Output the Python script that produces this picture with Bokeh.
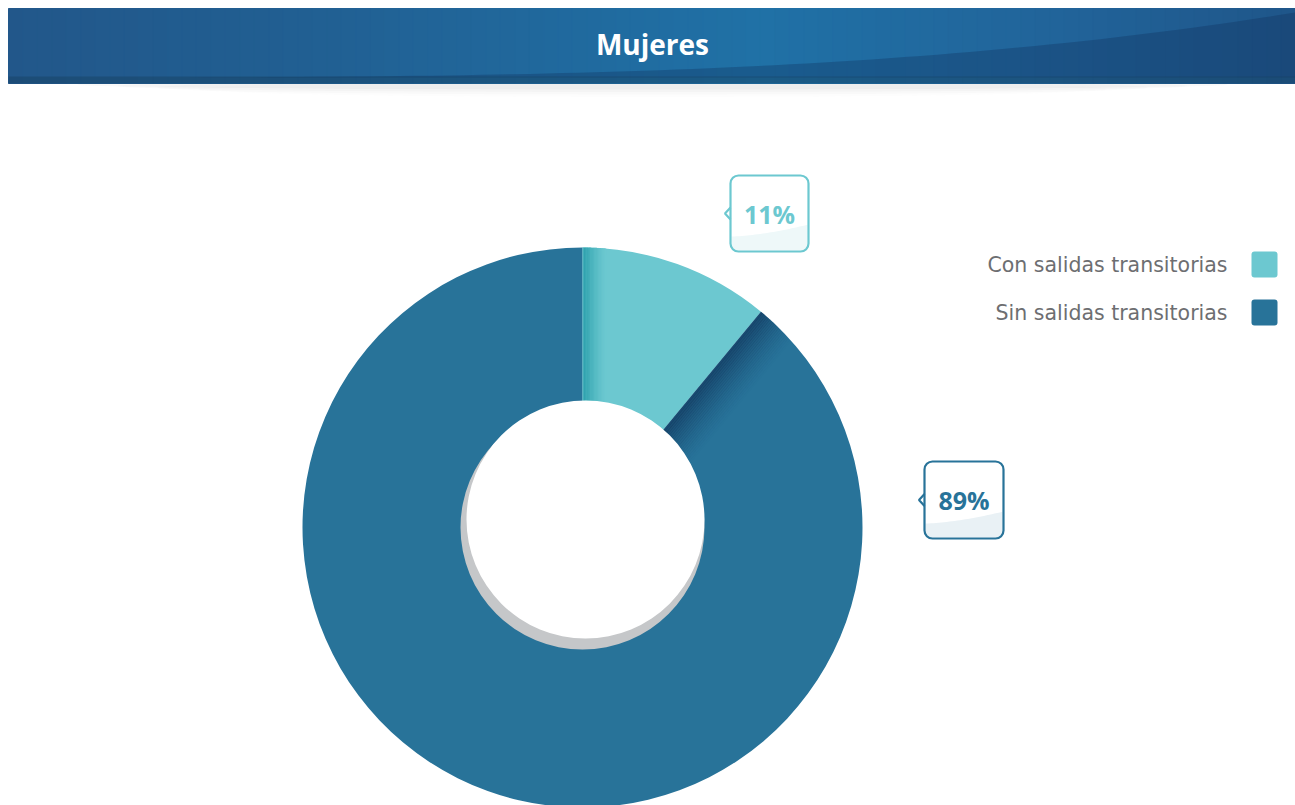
import numpy as np
from bokeh.plotting import figure
from bokeh.models import Range1d, BoxAnnotation
from bokeh.core.properties import value
from bokeh.embed import file_html
from bokeh.resources import INLINE

# ---------------- data ----------------
title = "Mujeres"
categories = ["Con salidas transitorias", "Sin salidas transitorias"]
values = [11, 89]
labels = ["11%", "89%"]
colors = ["#6cc8d0", "#287399"]

# ---------------- layout (screen px) ----------------
W, H = 1295, 805
FONT = "Open Sans"


def Y(ys):
    return H - np.asarray(ys, dtype=float)


def hex2rgb(h):
    h = h.lstrip("#")
    return np.array([int(h[i:i + 2], 16) for i in (0, 2, 4)], dtype=float)


def rgb2hex(c):
    c = np.clip(np.round(c), 0, 255).astype(int)
    return "#%02x%02x%02x" % tuple(c)


p = figure(width=W, height=H, x_range=Range1d(0, W), y_range=Range1d(0, H),
           output_backend="svg", toolbar_location=None, min_border=0,
           background_fill_color="white", border_fill_color="white")
p.axis.visible = False
p.grid.visible = False
p.outline_line_color = None

# ---------------- banner ----------------
for i, a in enumerate([0.05, 0.04, 0.03, 0.02]):
    p.ellipse(x=[652], y=Y([84 + i * 1.5]), width=1150 - i * 80, height=10 + i * 2,
              fill_color="#888888", fill_alpha=a, line_color=None)

# solid base then gradient strips on top (overlapping to hide seams)
p.quad(left=[8], right=[1295], top=Y([8]), bottom=Y([83]), fill_color="#215f92", line_color=None)
stops_x = [8, 300, 760, 1050, 1295]
stops_c = ["#22578a", "#215f92", "#2071a6", "#21649a", "#1f568a"]
sc = np.array([hex2rgb(c) for c in stops_c])
edges = np.linspace(8, 1295, 90)
lefts, rights, cols = [], [], []
for a, b in zip(edges[:-1], edges[1:]):
    m = 0.5 * (a + b)
    c = np.array([np.interp(m, stops_x, sc[:, k]) for k in range(3)])
    lefts.append(a)
    rights.append(min(b + 2.0, 1295))
    cols.append(rgb2hex(c))
p.quad(left=lefts, right=rights, top=Y(np.full(len(lefts), 8)), bottom=Y(np.full(len(lefts), 83)),
       fill_color=cols, line_color=cols, line_width=1)

cx = np.linspace(8, 1295, 80)
t = (cx - 8) / (1295 - 8)
cy = 77 - 65 * t ** 3.2
px = np.concatenate([cx, [1295, 8]])
py = np.concatenate([cy, [77, 77]])
p.patch(px, Y(py), fill_color="#102f5a", fill_alpha=0.32, line_color=None)
p.quad(left=[8], right=[1295], top=Y([76]), bottom=Y([83]), fill_color="#16405f", fill_alpha=0.45,
       line_color=None)

p.text(x=[652], y=Y([43]), text=[title], text_color="white", text_font=value(FONT),
       text_font_style="bold", text_font_size="28px", text_align="center", text_baseline="middle")

# ---------------- donut ----------------
CX, CY = 582, 527
R_OUT, R_IN = 280, 121
cx_d, cy_d = CX, float(Y(CY))

fr = np.array(values, dtype=float) / np.sum(values)
cum = np.concatenate([[0], np.cumsum(fr)])
start = np.pi / 2 - cum[:-1] * 2 * np.pi
end = np.pi / 2 - cum[1:] * 2 * np.pi
p.annular_wedge(x=[cx_d] * len(values), y=[cy_d] * len(values), inner_radius=R_IN, outer_radius=R_OUT,
                start_angle=list(start), end_angle=list(end), direction="clock",
                fill_color=colors, line_color=None)

# linear shading at the start of the first slice
c_dark = hex2rgb("#2a9fab")
c_lite = hex2rgb(colors[0])
for i in range(18):
    a, b = i * 1.3, (i + 1) * 1.3 + 0.3
    f = (i + 0.5) / 18
    w = (1 - f) ** 1.3 if i > 0 else 0.55
    col = c_dark * w + c_lite * (1 - w)
    xs = np.linspace(a, b, 4)
    top = np.sqrt(R_OUT ** 2 - xs ** 2)
    bot = np.sqrt(R_IN ** 2 - xs ** 2)
    polx = np.concatenate([xs, xs[::-1]]) + cx_d
    poly = np.concatenate([top, bot[::-1]]) + cy_d
    p.patch(polx, poly, fill_color=rgb2hex(col), line_color=None)

# shading in the second slice along the boundary
theta = cum[1] * 2 * np.pi
u = np.array([np.sin(theta), np.cos(theta)])
n = np.array([np.cos(theta), -np.sin(theta)])
nsh = 22
for i in range(nsh):
    d1, d2 = i * 2.0, (i + 1) * 2.0 + 0.4
    f = (i + 0.5) / nsh
    alpha = 0.62 * (1 - f) ** 1.6
    tin1, tout1 = np.sqrt(R_IN ** 2 - d1 ** 2), np.sqrt(R_OUT ** 2 - d1 ** 2)
    tin2, tout2 = np.sqrt(R_IN ** 2 - d2 ** 2), np.sqrt(R_OUT ** 2 - d2 ** 2)
    corners = [tin1 * u + d1 * n, tout1 * u + d1 * n, tout2 * u + d2 * n, tin2 * u + d2 * n]
    p.patch([cx_d + c[0] for c in corners], [cy_d + c[1] for c in corners],
            fill_color="#0f2f55", fill_alpha=alpha, line_color=None)

# hole with shadow
p.circle(x=[cx_d], y=[cy_d], radius=R_IN + 1, fill_color="#c5c7c9", line_color=None)
p.circle(x=[cx_d + 3], y=[cy_d + 8], radius=R_IN - 2, fill_color="white", line_color=None)

# ---------------- callouts ----------------
boxes = [(730, 808, 175, 251), (924, 1003, 461, 538)]
tints = ["#eef8f9", "#e9f1f5"]
for (l, r, tp, bt), lab, col, tint in zip(boxes, labels, colors, tints):
    p.add_layout(BoxAnnotation(left=l, right=r, top=float(Y(tp)), bottom=float(Y(bt)),
                               fill_color="white", fill_alpha=1, line_color=None,
                               border_radius=8, level="underlay"))
    rr = 7
    xs = np.linspace(l + 1, r - 1, 30)
    tt = (xs - l) / (r - l)
    ytop = (bt - 15) - 12 * tt ** 1.6
    ang = np.linspace(0, np.pi / 2, 8)
    right_corner_x = (r - 1 - rr) + rr * np.cos(ang)
    right_corner_y = (bt - 1 - rr) + rr * np.sin(ang)
    left_corner_x = (l + 1 + rr) - rr * np.sin(ang)
    left_corner_y = (bt - 1 - rr) + rr * np.cos(ang)
    tx = np.concatenate([xs, right_corner_x, left_corner_x])
    ty = np.concatenate([ytop, right_corner_y, left_corner_y])
    p.patch(tx, Y(ty), fill_color=tint, line_color=None)
    p.add_layout(BoxAnnotation(left=l, right=r, top=float(Y(tp)), bottom=float(Y(bt)),
                               fill_alpha=0, line_color=col, line_alpha=1, line_width=2.2,
                               border_radius=8, level="overlay"))
    ym = 0.5 * (tp + bt)
    p.patch([l + 1.6, l - 5, l + 1.6], Y([ym - 6, ym, ym + 6]), fill_color="white", line_color=None,
            level="overlay")
    p.line([l, l - 5.5, l], Y([ym - 6, ym, ym + 6]), line_color=col, line_width=2.2, level="overlay")
    p.text(x=[0.5 * (l + r)], y=Y([ym]), text=[lab], text_color=col, text_font=value(FONT),
           text_font_style="bold", text_font_size="25px", text_align="center", text_baseline="middle",
           level="overlay")

# ---------------- legend ----------------
leg_y = [264, 312]
for cat, col, ly in zip(categories, colors, leg_y):
    p.add_layout(BoxAnnotation(left=1251, right=1277, top=float(Y(ly - 13)), bottom=float(Y(ly + 13)),
                               fill_color=col, fill_alpha=1, line_color=None, border_radius=3))
p.text(x=[1227] * len(categories), y=Y(leg_y), text=categories, text_color="#6d6e71",
       text_font=value("DejaVu Sans"), text_font_size="20.5px", text_align="right",
       text_baseline="middle")

open("out.html", "w").write(file_html(p, INLINE))
